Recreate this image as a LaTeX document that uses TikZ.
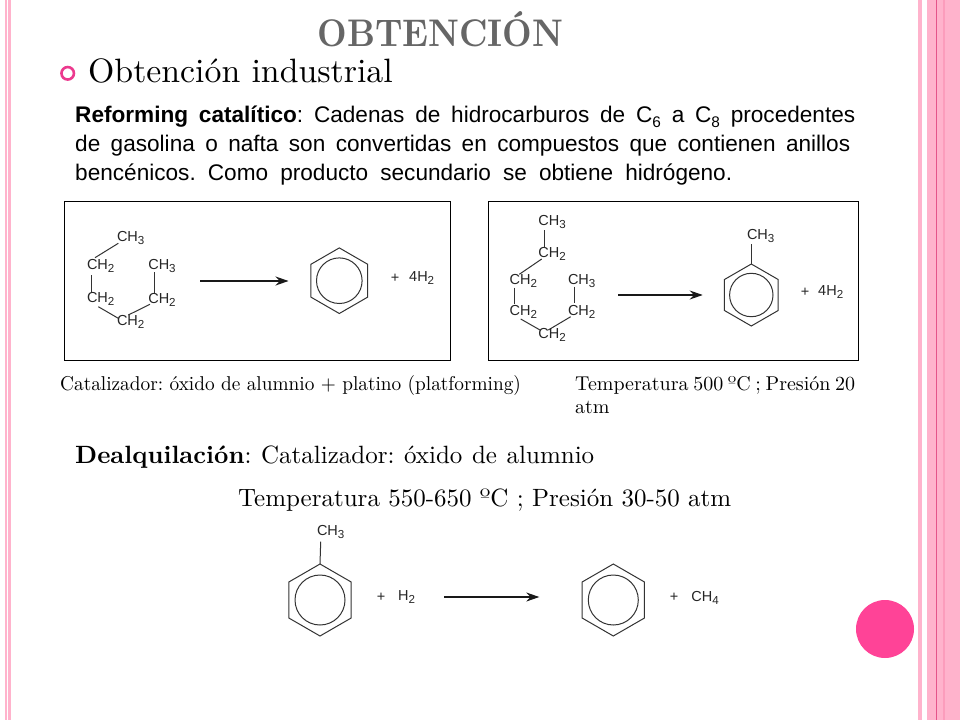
\documentclass[tikz,border=0pt]{standalone}
\usepackage{fontspec}
\setmainfont{Latin Modern Roman}
\newfontfamily\arialf{Liberation Sans}
\usetikzlibrary{arrows.meta,shapes.geometric}
\definecolor{stripe}{HTML}{FFB3CC}
\definecolor{stripeb}{HTML}{FC9DBC}
\definecolor{stripec}{HTML}{E5548A}
\definecolor{bulletc}{HTML}{EC3A8E}
\definecolor{discc}{HTML}{FF4397}
\definecolor{titlec}{HTML}{666666}
\newcommand{\sbs}[1]{\raisebox{-0.22em}{\scalebox{.8}{#1}}}
\newcommand{\sbt}[1]{\raisebox{-0.2em}{\scalebox{.68}{#1}}}
% text set at the 10pt design size, then scaled; second argument is the width before scaling
\newcommand{\lmline}[3]{\scalebox{#1}{\fontsize{10}{12}\selectfont\frenchspacing\makebox[#2pt][s]{#3}}}
\tikzset{
  x=1pt,y=-1pt,
  band/.style={fill=stripe,draw=none},
  chem/.style={font=\arialf\fontsize{14.5}{16}\selectfont,inner sep=0pt,text=black!85},
  bond/.style={line width=1pt,draw=black!80},
  react/.style={line width=1.1pt,draw=black!90,-{Stealth[length=13pt,width=9pt]}},
  panel/.style={draw=black,line width=1pt,inner sep=0pt,fill=none},
  hexa/.style={regular polygon,regular polygon sides=6,shape border rotate=30,draw=black!80,line width=1pt,inner sep=0pt,outer sep=0pt},
  ring/.style={circle,draw=black!80,line width=1pt,inner sep=0pt,outer sep=0pt},
  bodytext/.style={anchor=base west,inner sep=0pt,font=\arialf\fontsize{22.6}{24}\selectfont\frenchspacing,text=black},
  seriftext/.style={anchor=base west,inner sep=0pt,text=black},
}
\begin{document}
\begin{tikzpicture}
\useasboundingbox (0,0) rectangle (960,720);
\fill[white] (0,0) rectangle (960,720);
% side bands
\path[band] (5,0) rectangle (6.5,720);
\path[band] (7.5,0) rectangle (11,720);
\path[band] (918,0) rectangle (922,720);
\path[band] (927,0) rectangle (960,720);
\fill[stripec] (936,0) rectangle (937,720);
\fill[stripeb] (943,0) rectangle (945,720);
\node[circle,fill=discc,minimum size=58pt,inner sep=0pt] (disc) at (885,629) {};
% headings
\node[anchor=base,inner sep=0pt,text=titlec] (title) at (440.5,46) {\scalebox{3.43}[3.85]{\fontsize{10}{12}\selectfont\bfseries OBTENCIÓN}};
\node[circle,draw=bulletc,line width=2.6pt,minimum size=12.5pt,inner sep=0pt] (bullet) at (67.7,73.3) {};
\node[seriftext] (sub) at (88,82) {\scalebox{3.38}{\fontsize{10}{12}\selectfont Obtención industrial}};
% paragraph
\node[bodytext] (l1) at (75,122.5) {\makebox[780pt][s]{\textbf{Reforming catalítico}: Cadenas de hidrocarburos de C\sbt{6} a C\sbt{8} procedentes}};
\node[bodytext] (l2) at (75,151.5) {\makebox[775pt][s]{de gasolina o nafta son convertidas en compuestos que contienen anillos}};
\node[bodytext] (l3) at (75,180.5) {\makebox[657pt][s]{bencénicos. Como producto secundario se obtiene hidrógeno.}};
% panels
\node[panel,minimum width=385.5pt,minimum height=159pt] (box1) at (257.3,280.5) {};
\node[panel,minimum width=370.4pt,minimum height=159pt] (box2) at (673.5,280.5) {};
% molecule 1
\node[chem] (c) at (130.7,237.7) {CH\sbs{3}};
\node[chem] (a) at (100.7,265.7) {CH\sbs{2}};
\node[chem] (d) at (162,265.7) {CH\sbs{3}};
\node[chem] (b) at (100.7,299) {CH\sbs{2}};
\node[chem] (e) at (162,299.7) {CH\sbs{2}};
\node[chem] (f) at (130.7,321.7) {CH\sbs{2}};
\draw[bond] ([shift={(-12.4,5.6)}]c.center) -- ([shift={(-5.7,-8)}]a.center);
\draw[bond] ([shift={(-9,9.3)}]a.center) -- ([shift={(-9,-7.3)}]b.center);
\draw[bond] ([shift={(-2.4,7.7)}]b.center) -- ([shift={(-12.4,-3.4)}]f.center);
\draw[bond] ([shift={(-2.4,-6.7)}]f.center) -- ([shift={(-12,4.6)}]e.center);
\draw[bond] ([shift={(-7.7,6.6)}]d.center) -- ([shift={(-7.7,-6.4)}]e.center);
\coordinate (ar1s) at (200,281);
\coordinate (ar1e) at (288.5,281);
\draw[react] (ar1s) -- (ar1e);
\node[hexa,minimum size=65.6pt] (ben1) at (339.3,280.7) {};
\node[ring,minimum size=45.6pt] (ring1) at (ben1.center) {};
\node[chem] (p1) at (395,278) {+};
\node[chem] (h1) at (421.7,278) {4H\sbs{2}};
% molecule 2
\node[chem] (g) at (552,221.7) {CH\sbs{3}};
\node[chem] (h) at (552,254) {CH\sbs{2}};
\node[chem] (i) at (523.3,280.7) {CH\sbs{2}};
\node[chem] (j) at (581.7,280.7) {CH\sbs{3}};
\node[chem] (k) at (523.3,312.3) {CH\sbs{2}};
\node[chem] (l) at (581.7,312.3) {CH\sbs{2}};
\node[chem] (m) at (552,335) {CH\sbs{2}};
\draw[bond] ([shift={(-7.7,8.3)}]g.center) -- ([shift={(-7.7,-6.3)}]h.center);
\draw[bond] ([shift={(-10.3,5)}]h.center) -- ([shift={(-4,-6.4)}]i.center);
\draw[bond] ([shift={(-9,7)}]i.center) -- ([shift={(-9,-8)}]k.center);
\draw[bond] ([shift={(-2.6,6.7)}]k.center) -- ([shift={(-12,-5)}]m.center);
\draw[bond] ([shift={(-3.7,-5)}]m.center) -- ([shift={(-11,4.4)}]l.center);
\draw[bond] ([shift={(-7.4,6)}]j.center) -- ([shift={(-7.4,-9)}]l.center);
\coordinate (ar2s) at (618.3,295);
\coordinate (ar2e) at (702.7,295);
\draw[react] (ar2s) -- (ar2e);
\node[hexa,minimum size=62pt] (ben2) at (751.3,295) {};
\node[ring,minimum size=43.4pt] (ring2) at (ben2.center) {};
\node[chem] (me2) at (760.7,235.7) {CH\sbs{3}};
\draw[bond] (ben2.north) -- ([shift={(-9.4,8.6)}]me2.center);
\node[chem] (p2) at (805,292.3) {+};
\node[chem] (h2) at (830.7,292.3) {4H\sbs{2}};
% captions
\node[seriftext] (cap1) at (60,390) {\scalebox{1.93}[2]{\fontsize{10}{12}\selectfont\frenchspacing Catalizador: óxido de alumnio + platino (platforming)}};
\node[seriftext] (cap2) at (575,390) {\lmline{2}{140}{Temperatura 500 ºC ; Presión 20}};
\node[seriftext] (cap3) at (575,413) {\scalebox{2}{\fontsize{10}{12}\selectfont atm}};
\node[seriftext] (dea) at (75,463.5) {\lmline{2.5}{207.6}{\textbf{Dealquilación}: Catalizador: óxido de alumnio}};
\node[seriftext] (tem) at (238,506.5) {\lmline{2.5}{197.2}{Temperatura 550-650 ºC ; Presión 30-50 atm}};
% molecule 3
\node[chem] (me3) at (330.7,532.3) {CH\sbs{3}};
\node[hexa,minimum size=72pt] (ben3) at (320,600) {};
\node[ring,minimum size=50pt] (ring3) at (ben3.center) {};
\draw[bond] (ben3.north) -- ([shift={(-10,9.4)}]me3.center);
\node[chem] (p3) at (381,597.3) {+};
\node[chem] (h3) at (406.7,597.3) {H\sbs{2}};
\coordinate (ar3s) at (444,597);
\coordinate (ar3e) at (539.3,597);
\draw[react] (ar3s) -- (ar3e);
\node[hexa,minimum size=72pt] (ben4) at (613.3,600) {};
\node[ring,minimum size=50pt] (ring4) at (ben4.center) {};
\node[chem] (p4) at (674,597.7) {+};
\node[chem] (me4) at (705,597.7) {CH\sbs{4}};
\end{tikzpicture}
\end{document}
